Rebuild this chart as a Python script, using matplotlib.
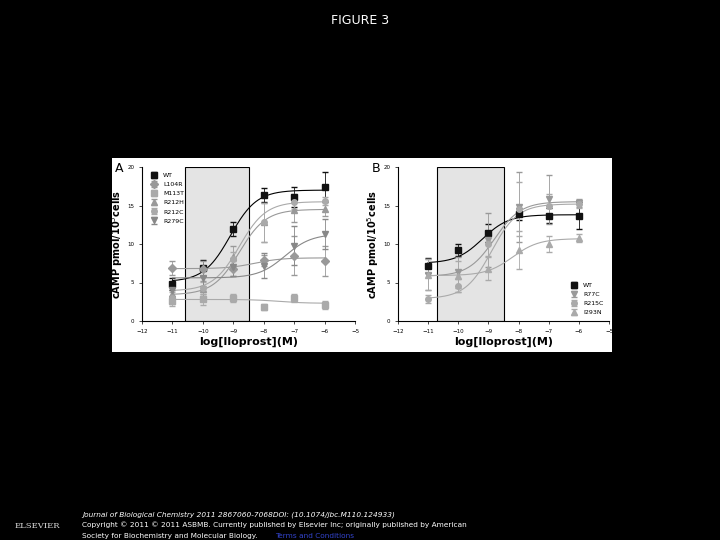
import numpy as np
import matplotlib
matplotlib.use("Agg")
import matplotlib.pyplot as plt

x = [-11, -10, -9, -8, -7, -6]
A_names = ["WT", "L104R", "M113T", "R212H", "R212C", "R279C"]
A_vals = [[4.8, 6.9, 12.0, 16.4, 16.1, 17.4],
          [6.9, 6.8, 6.8, 7.9, 8.5, 7.8],
          [2.6, 2.8, 3.0, 1.8, 3.0, 2.1],
          [3.5, 4.2, 8.3, 12.8, 14.4, 14.6],
          [3.0, 4.3, 8.0, 12.8, 15.5, 15.6],
          [4.0, 5.6, 7.0, 7.2, 9.8, 11.3]]
A_err = [[0.8, 1.0, 0.9, 0.9, 1.3, 2.0],
         [0.9, 1.0, 1.0, 0.7, 2.5, 2.0],
         [0.6, 0.7, 0.5, 0.4, 0.5, 0.5],
         [0.8, 1.0, 1.5, 2.5, 1.5, 1.0],
         [0.8, 0.8, 1.0, 2.5, 1.0, 0.5],
         [0.8, 1.0, 1.2, 1.6, 2.5, 2.0]]
# fitted curve parameters: bottom, top, logEC50
A_fit = [[5.1, 17.0, -9.1], [6.8, 8.2, -8.3], [2.8, 2.3, -7.5],
         [3.4, 14.5, -8.8], [3.9, 15.5, -8.8], [5.6, 11.3, -7.3]]
A_marker = ["s", "D", "s", "^", "o", "v"]
A_color = ["#111111", "#999999", "#aaaaaa", "#999999", "#aaaaaa", "#888888"]

B_names = ["WT", "R77C", "R215C", "I293N"]
B_vals = [[7.2, 9.2, 11.4, 13.9, 13.7, 13.7],
          [6.0, 6.3, 10.5, 14.8, 15.8, 15.3],
          [2.9, 4.6, 10.0, 14.5, 15.0, 15.2],
          [6.0, 5.8, 6.8, 9.2, 10.0, 10.8]]
B_err = [[1.0, 0.8, 1.2, 0.8, 1.0, 1.8],
         [2.0, 2.0, 3.5, 4.5, 3.2, 0.5],
         [0.5, 0.8, 1.5, 3.5, 1.5, 0.5],
         [2.0, 2.0, 1.5, 2.5, 1.0, 0.5]]
B_fit = [[7.5, 13.8, -9.2], [5.8, 15.5, -8.8], [2.9, 15.2, -8.9], [5.9, 10.7, -8.2]]
B_marker = ["s", "v", "o", "^"]
B_color = ["#111111", "#999999", "#aaaaaa", "#aaaaaa"]

fig = plt.figure(figsize=(7.2, 5.4), dpi=100, facecolor="black")
fig.text(0.5, 0.975, "FIGURE 3", color="white", ha="center", va="top", fontsize=9)
bg = fig.add_axes([112/720, 1-352/540, 500/720, 194/540])
bg.set_facecolor("white"); bg.set_xticks([]); bg.set_yticks([])
for s in bg.spines.values(): s.set_visible(False)

def panel(rect, names, vals, errs, fits, markers, colors, shade, letter, legloc):
    ax = fig.add_axes(rect)
    ax.set_xlim(-12, -5); ax.set_ylim(0, 20)
    ax.axvspan(shade[0], shade[1], color="#e4e4e4", ec="black", lw=0.8, zorder=0)
    xx = np.linspace(-11, -6, 200)
    for n, v, e, f, m, c in zip(names, vals, errs, fits, markers, colors):
        b, t, ec = f
        ax.plot(xx, b + (t - b) / (1 + 10 ** (ec - xx)), color=c if c != "#111111" else "black", lw=0.8)
        ax.errorbar(x, v, yerr=e, fmt=m, color=c, ms=4, capsize=2, elinewidth=0.6, label=n)
    ax.set_xticks(range(-12, -4)); ax.set_yticks([0, 5, 10, 15, 20])
    ax.tick_params(labelsize=4, length=2, width=0.5)
    ax.set_xlabel("log[Iloprost](M)", fontsize=8, fontweight="bold", labelpad=2)
    ax.set_ylabel("cAMP pmol/10$^5$cells", fontsize=7, fontweight="bold", labelpad=2)
    ax.spines["top"].set_visible(False); ax.spines["right"].set_visible(False)
    ax.legend(loc=legloc, fontsize=4.5, frameon=False, handletextpad=0.5, labelspacing=0.6)
    ax.text(-0.125, 1.03, letter, transform=ax.transAxes, fontsize=9, va="top", ha="left")
    return ax

panel([142/720, 1-321/540, 213/720, 154/540], A_names, A_vals, A_err, A_fit, A_marker, A_color,
      (-10.6, -8.5), "A", "upper left")
panel([398/720, 1-321/540, 211/720, 154/540], B_names, B_vals, B_err, B_fit, B_marker, B_color,
      (-10.7, -8.5), "B", "lower right")

fs = 5.3
fig.text(82/720, 1-517/540, "Journal of Biological Chemistry 2011 2867060-7068DOI: (10.1074/jbc.M110.124933)",
         color="white", fontsize=fs, style="italic")
fig.text(82/720, 1-527/540, "Copyright © 2011 © 2011 ASBMB. Currently published by Elsevier Inc; originally published by American",
         color="white", fontsize=fs)
fig.text(82/720, 1-538/540, "Society for Biochemistry and Molecular Biology.", color="white", fontsize=fs)
fig.text(275/720, 1-538/540, "Terms and Conditions", color="#3344cc", fontsize=fs)
fig.text(37/720, 1-528/540, "ELSEVIER", color="#dddddd", fontsize=6, family="DejaVu Serif", ha="center")
fig.savefig("out.png", facecolor="black")
